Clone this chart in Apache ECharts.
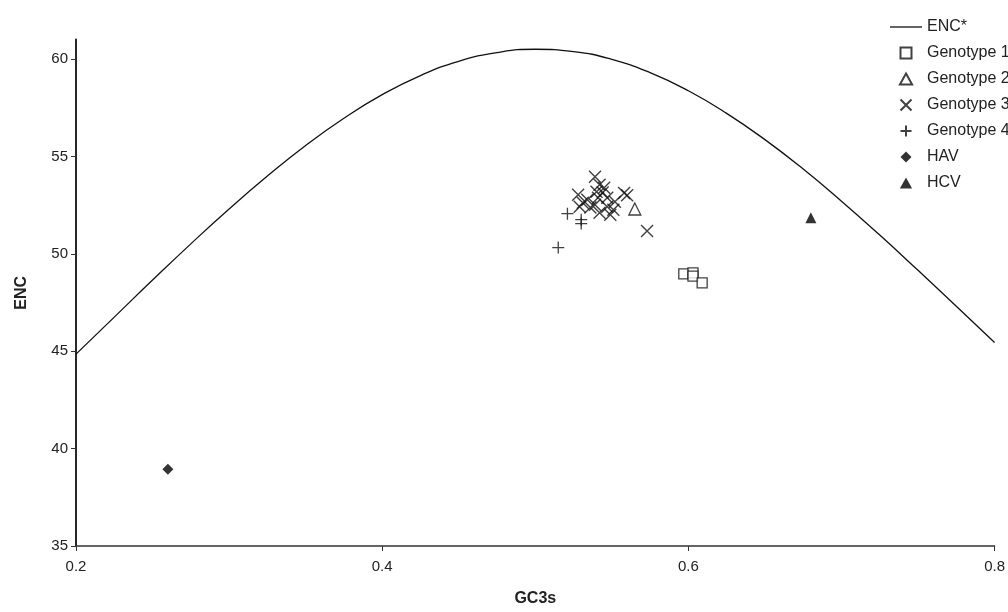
<!DOCTYPE html>
<html>
<head>
<meta charset="utf-8">
<script src="https://cdn.jsdelivr.net/npm/echarts@6/dist/echarts.min.js"></script>
<style>
  html, body { margin: 0; padding: 0; background: #fff; }
  #chart { width: 1008px; height: 612px; }
</style>
</head>
<body>
<div id="chart"></div>
<script>
// expected ENC curve
const encS = [0.2, 0.225, 0.25, 0.275, 0.3, 0.325, 0.35, 0.375, 0.4, 0.425, 0.45, 0.475, 0.5,
  0.525, 0.55, 0.575, 0.6, 0.625, 0.65, 0.675, 0.7, 0.725, 0.75, 0.775, 0.8];
const encValues = [44.85, 46.75, 48.65, 50.51, 52.3, 53.99, 55.56, 56.96, 58.17, 59.15, 59.88, 60.33, 60.5,
  60.38, 59.98, 59.3, 58.37, 57.21, 55.86, 54.35, 52.7, 50.96, 49.15, 47.31, 45.45];

// [GC3s, ENC]
const genotype1 = [[0.597, 48.97], [0.603, 49.02], [0.603, 48.85], [0.609, 48.51]];
const genotype2 = [[0.565, 52.3]];
const genotype3 = [
  [0.539, 53.96], [0.542, 53.55], [0.528, 53.03], [0.534, 52.78], [0.540, 53.19],
  [0.544, 53.14], [0.547, 52.88], [0.552, 52.67], [0.558, 53.12], [0.560, 53.0],
  [0.529, 52.42], [0.536, 52.37], [0.542, 52.11], [0.549, 52.01], [0.551, 52.26],
  [0.539, 52.52], [0.531, 52.62], [0.547, 52.42], [0.541, 52.88], [0.545, 53.39],
  [0.573, 51.17]
];
const genotype4 = [[0.515, 50.32], [0.521, 52.06], [0.530, 51.75], [0.530, 51.55]];
const hav = [[0.26, 38.94]];
const hcv = [[0.68, 51.85]];

const xTicks = [0.2, 0.4, 0.6, 0.8];
const yTicks = [35, 40, 45, 50, 55, 60];

const ink = "#111";
const font = "Liberation Sans, Arial, sans-serif";
const crossPath = "path://M0,0L10,10M10,0L0,10";
const plusPath = "path://M5,0L5,10M0,5L10,5";
const squarePath = "path://M0,0L10,0L10,10L0,10Z";
const trianglePath = "path://M5,0L10,9L0,9Z";
const diamondPath = "path://M5,0L10,5L5,10L0,5Z";
const linePath = "path://M0,0L32,0L32,1.3L0,1.3Z";

const chart = echarts.init(document.getElementById("chart"));

const openStyle = { color: "#fff", borderColor: ink, borderWidth: 1.3 };

chart.setOption({
  backgroundColor: "#fff",
  animation: false,
  textStyle: { fontFamily: font },
  grid: { left: 76, right: 13, top: 39.5, bottom: 65 },
  legend: {
    orient: "vertical",
    left: 885,
    top: 14,
    itemWidth: 32,
    itemHeight: 11,
    itemGap: 10,
    symbolKeepAspect: true,
    textStyle: { fontSize: 16, color: "#222", lineHeight: 16, fontFamily: font },
    data: [
      { name: "ENC*", icon: linePath, itemStyle: { color: ink, borderWidth: 0 } },
      { name: "Genotype 1", icon: squarePath },
      { name: "Genotype 2", icon: trianglePath },
      { name: "Genotype 3", icon: crossPath },
      { name: "Genotype 4", icon: plusPath },
      { name: "HAV", icon: diamondPath },
      { name: "HCV", icon: trianglePath }
    ]
  },
  xAxis: {
    type: "value",
    min: 0.2,
    max: 0.8,
    interval: 0.2,
    name: "GC3s",
    nameLocation: "middle",
    nameGap: 45,
    nameTextStyle: { fontSize: 16, fontWeight: "bold", color: "#222" },
    splitLine: { show: false },
    axisLine: { lineStyle: { color: "#333", width: 1.5 } },
    axisTick: { length: 5, lineStyle: { color: "#333" }, customValues: xTicks },
    axisLabel: { fontSize: 15, color: "#222", margin: 13, customValues: xTicks,
      formatter: v => v.toFixed(1) }
  },
  yAxis: {
    type: "value",
    min: 35,
    max: 61,
    name: "ENC",
    nameLocation: "middle",
    nameGap: 46,
    nameRotate: 90,
    nameTextStyle: { fontSize: 16, fontWeight: "bold", color: "#222" },
    splitLine: { show: false },
    axisLine: { show: true, lineStyle: { color: ink, width: 1.8 } },
    axisTick: { show: true, length: 5, lineStyle: { color: "#333" }, customValues: yTicks },
    axisLabel: { fontSize: 15, color: "#222", margin: 8, customValues: yTicks }
  },
  series: [
    {
      name: "ENC*",
      type: "line",
      smooth: true,
      symbol: "none",
      lineStyle: { color: ink, width: 1.3 },
      itemStyle: { color: ink },
      data: encS.map((s, i) => [s, encValues[i]])
    },
    {
      name: "Genotype 1",
      type: "scatter",
      symbol: "rect",
      symbolSize: 10,
      itemStyle: openStyle,
      data: genotype1
    },
    {
      name: "Genotype 2",
      type: "scatter",
      symbol: "triangle",
      symbolSize: 12,
      itemStyle: openStyle,
      data: genotype2
    },
    {
      name: "Genotype 3",
      type: "scatter",
      symbol: crossPath,
      symbolSize: 12,
      itemStyle: { color: "#fff", borderColor: ink, borderWidth: 1.4 },
      data: genotype3
    },
    {
      name: "Genotype 4",
      type: "scatter",
      symbol: plusPath,
      symbolSize: 12,
      itemStyle: openStyle,
      data: genotype4
    },
    {
      name: "HAV",
      type: "scatter",
      symbol: "diamond",
      symbolSize: 11,
      itemStyle: { color: "#000" },
      data: hav
    },
    {
      name: "HCV",
      type: "scatter",
      symbol: "triangle",
      symbolSize: 11,
      itemStyle: { color: "#000" },
      data: hcv
    }
  ]
});
</script>
</body>
</html>
